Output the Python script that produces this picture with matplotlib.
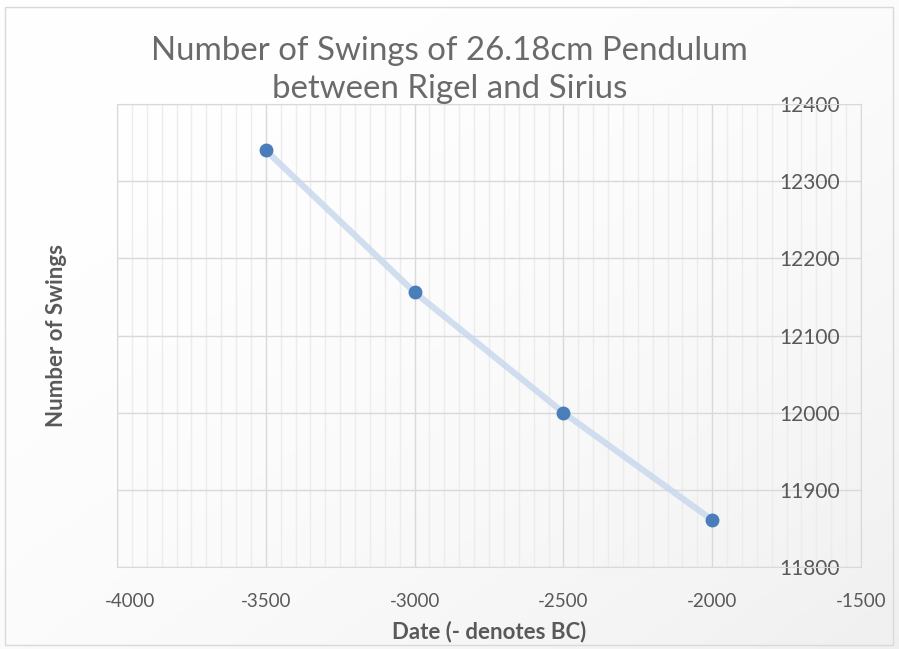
import numpy as np
import matplotlib
matplotlib.use("Agg")
import matplotlib.pyplot as plt
import matplotlib.transforms as mtransforms
from matplotlib.patches import Rectangle
from matplotlib.ticker import MultipleLocator

# data
dates = [-3500, -3000, -2500, -2000]
swings = [12340, 12156, 12000, 11861]

x_ticks = [-4000, -3500, -3000, -2500, -2000, -1500]
y_ticks = [11800, 11900, 12000, 12100, 12200, 12300, 12400]

title = "Number of Swings of 26.18cm Pendulum\nbetween Rigel and Sirius"
x_label = "Date (- denotes BC)"
y_label = "Number of Swings"

text_col = "#595959"
plt.rcParams["font.family"] = ["Lato", "DejaVu Sans"]
plt.rcParams["axes.unicode_minus"] = False

fig = plt.figure(figsize=(8.99, 6.49), dpi=100)

# background with a soft gradient and a thin border
bg = fig.add_axes([0, 0, 1, 1], zorder=-10)
bg.set_axis_off()
gx, gy = np.meshgrid(np.linspace(0, 1, 200), np.linspace(0, 1, 200))
shade = 1.0 - 0.06 * np.clip((gx + gy) / 2, 0, 1) ** 2
bg.imshow(np.dstack([shade] * 3), extent=[0, 1, 0, 1], aspect="auto", origin="upper")
bg.add_patch(Rectangle((5 / 899, 4 / 649), 888 / 899, 638 / 649, fill=False,
                       edgecolor="#d9d9d9", linewidth=1))
bg.set_xlim(0, 1)
bg.set_ylim(0, 1)

ax = fig.add_axes([117 / 899, 1 - 567 / 649, 744 / 899, 463 / 649])
ax.patch.set_alpha(0)

ax.plot(dates, swings, color="#c6d7ed", linewidth=4.5, alpha=0.8, zorder=3,
        solid_capstyle="butt")
ax.plot(dates, swings, linestyle="none", marker="o", markersize=9,
        color="#4a7ebb", zorder=4)

ax.set_xlim(-4000, -1500)
ax.set_ylim(11800, 12400)
ax.set_xticks(x_ticks)
ax.set_yticks(y_ticks)
ax.xaxis.set_minor_locator(MultipleLocator(50))

ax.grid(True, which="major", color="#d9d9d9", linewidth=1)
ax.grid(True, which="minor", axis="x", color="#ececec", linewidth=1)
ax.set_axisbelow(True)
for side in ["top", "left", "right", "bottom"]:
    ax.spines[side].set_color("#d9d9d9")

ax.tick_params(axis="x", which="both", length=0, pad=19, labelsize=13.5,
               labelcolor=text_col)
ax.tick_params(axis="y", which="both", left=False, right=False, labelleft=False,
               labelright=True, pad=0, labelsize=15, labelcolor=text_col)
# y labels sit inside the plot, right-aligned 21px left of the right spine
shift = mtransforms.ScaledTranslation(-21 / 100, 0, fig.dpi_scale_trans)
for tick in ax.yaxis.get_major_ticks():
    tick.label2.set_horizontalalignment("right")
    tick.label2.set_transform(ax.get_yaxis_transform() + shift)

# the first date label sits a little to the right, as in the original
first = ax.get_xticklabels()[0]
first.set_transform(first.get_transform() +
                    mtransforms.ScaledTranslation(13 / 100, 0, fig.dpi_scale_trans))

ax.set_xlabel(x_label, fontsize=16, fontweight="bold", color=text_col)
ax.set_ylabel(y_label, fontsize=16, fontweight="bold", color=text_col)
ax.xaxis.set_label_coords(0.5, -0.14)
ax.xaxis.label.set_verticalalignment("center")
ax.yaxis.set_label_coords(-0.081, 0.5)
ax.yaxis.label.set_verticalalignment("center")

fig.text(0.5, 1 - 70 / 649, title, ha="center", va="center", fontsize=23.8,
         color="#6a6a6a", linespacing=1.32)

fig.savefig("out.png", dpi=100)
